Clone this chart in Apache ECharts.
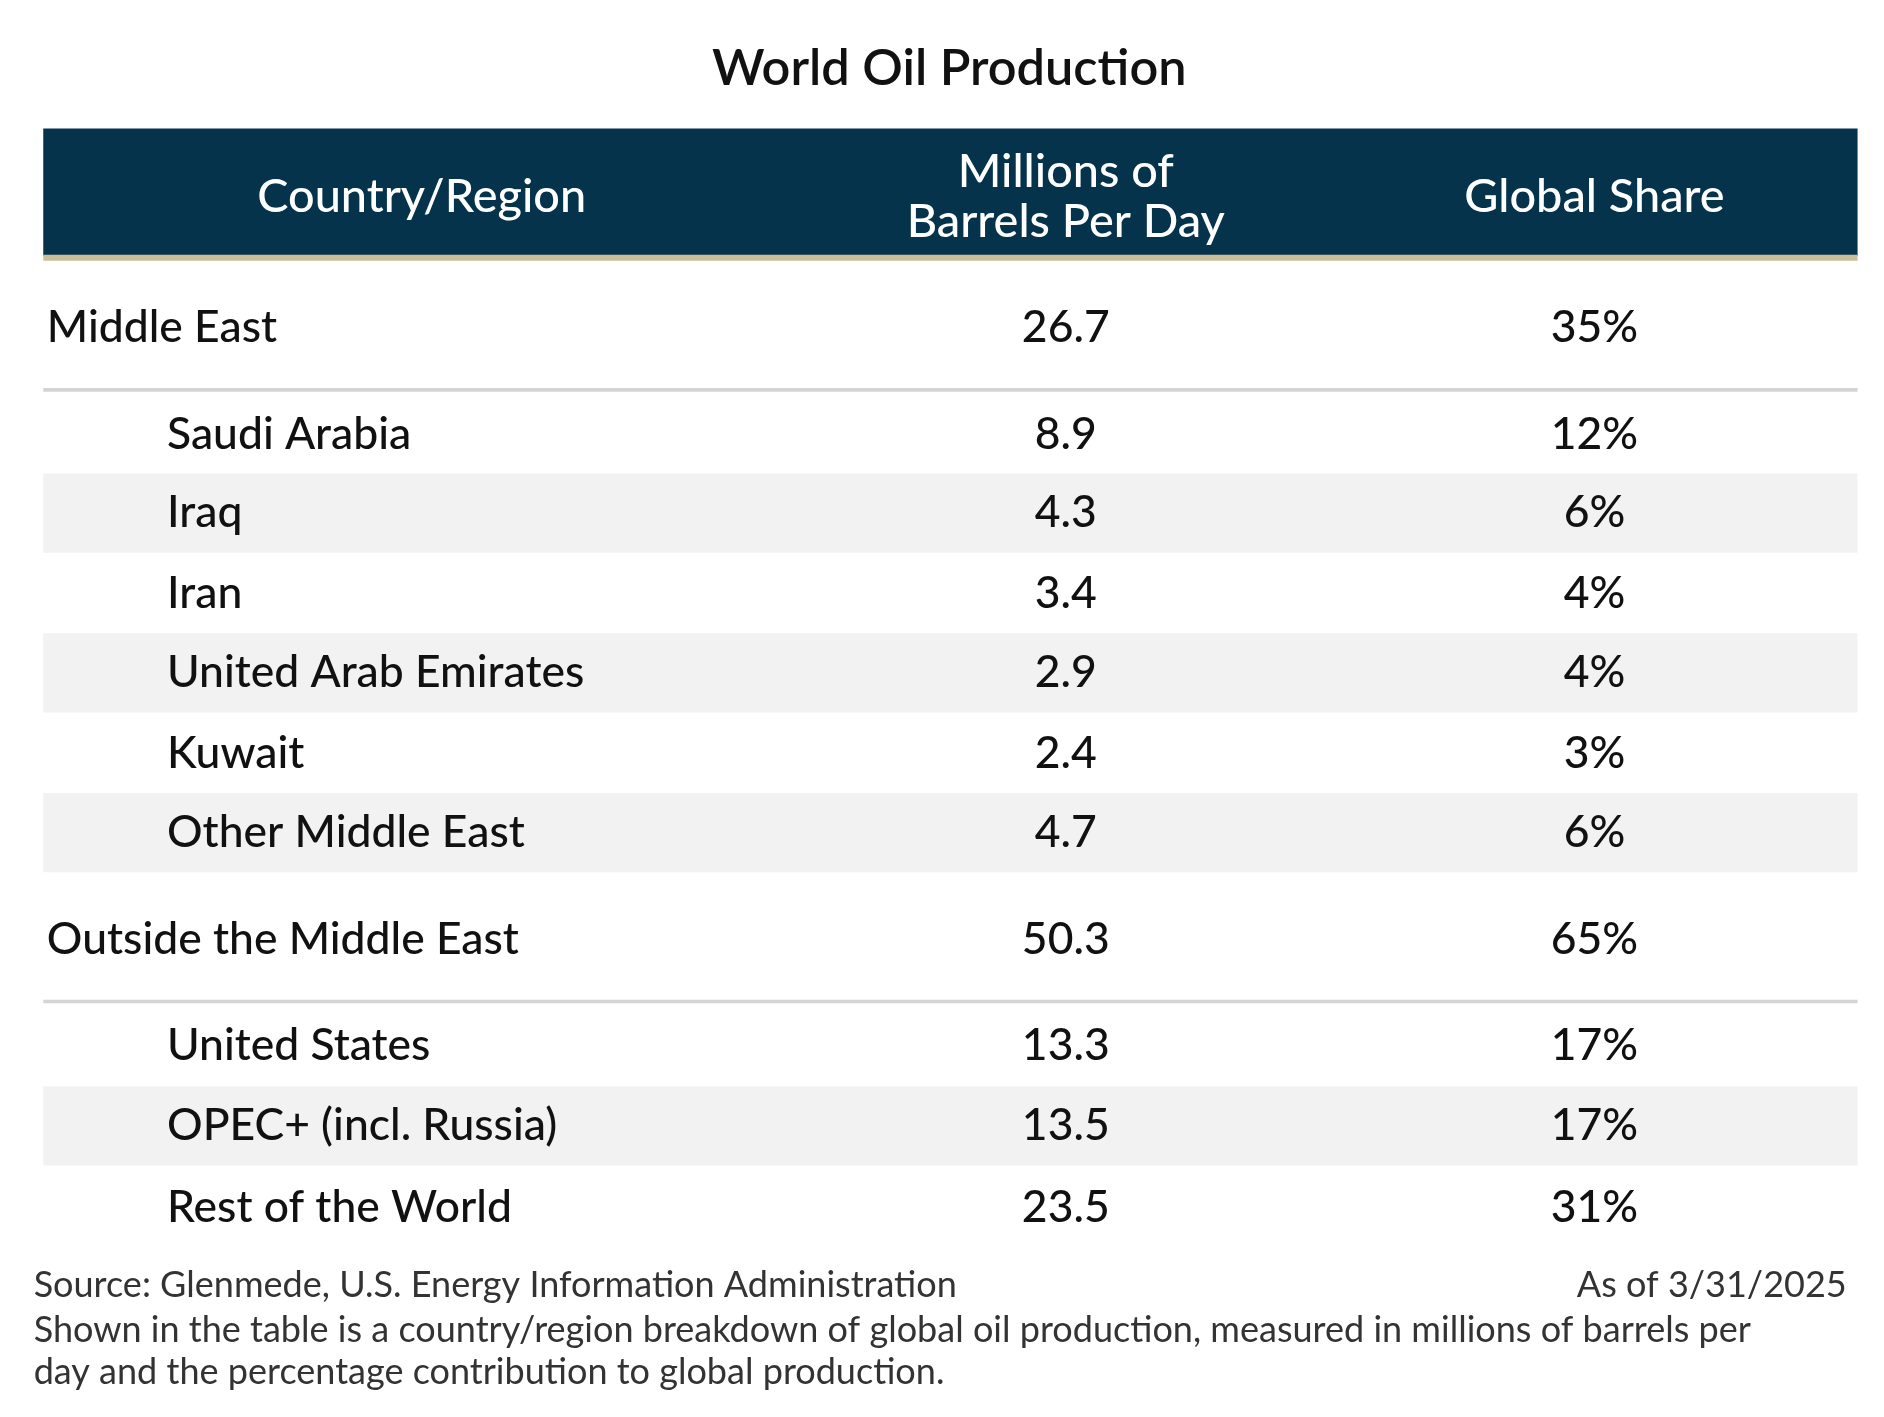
<!DOCTYPE html>
<html><head><meta charset="utf-8">
<script src="https://cdn.jsdelivr.net/npm/echarts@6/dist/echarts.min.js"></script>
<style>html,body{margin:0;padding:0;background:#fff}#c{width:1884px;height:1417px}</style>
</head><body><div id="c"></div>
<script>
const countries = ["Middle East","Saudi Arabia","Iraq","Iran","United Arab Emirates","Kuwait","Other Middle East","Outside the Middle East","United States","OPEC+ (incl. Russia)","Rest of the World"];
const barrels = [26.7,8.9,4.3,3.4,2.9,2.4,4.7,50.3,13.3,13.5,23.5];
const shares = ["35%","12%","6%","4%","4%","3%","6%","65%","17%","17%","31%"];
const isGroup = [true,false,false,false,false,false,false,true,false,false,false];
const headers = ["Country/Region","Millions of\nBarrels Per Day","Global Share"];

const s = 1884/1568;
const S = v => v*s;
const F = "Lato, 'Noto Sans', sans-serif";
const g = [];
g.push({type:'text',x:S(790),y:S(57),style:{text:'World Oil Production',font:`600 ${S(42)}px ${F}`,fill:'#111',align:'center',verticalAlign:'middle'}});
g.push({type:'rect',shape:{x:S(36),y:S(107),width:S(1510),height:S(106)},style:{fill:'#05334b'}});
g.push({type:'rect',shape:{x:S(36),y:S(212),width:S(1510),height:S(5)},style:{fill:'#c9c09a'}});
const hx=[351,887,1327];
headers.forEach((h,i)=>g.push({type:'text',x:S(hx[i]),y:S(164),style:{text:h,font:`500 ${S(39)}px ${F}`,fill:'#fff',align:'center',verticalAlign:'middle',lineHeight:S(42)}}));
const yc=[273,362,427,494,560,627,693,782,870,937,1005];
let sub=0;
countries.forEach((c,i)=>{
  if(isGroup[i]){ sub=0;
    g.push({type:'rect',shape:{x:S(36),y:S(yc[i]+50),width:S(1510),height:S(3)},style:{fill:'#d4d4d4'}});
  } else {
    if(sub%2===1) g.push({type:'rect',shape:{x:S(36),y:S(yc[i]-33),width:S(1510),height:S(66)},style:{fill:'#f2f2f2'}});
    sub++;
  }
});
countries.forEach((c,i)=>{
  const font=`500 ${S(37)}px ${F}`;
  g.push({type:'text',x:S(isGroup[i]?39:139),y:S(yc[i]),style:{text:c,font,fill:'#111',verticalAlign:'middle'}});
  g.push({type:'text',x:S(887),y:S(yc[i]),style:{text:barrels[i].toFixed(1),font,fill:'#111',align:'center',verticalAlign:'middle'}});
  g.push({type:'text',x:S(1327),y:S(yc[i]),style:{text:shares[i],font,fill:'#111',align:'center',verticalAlign:'middle'}});
});
const ff=`${S(30)}px ${F}`;
g.push({type:'text',x:S(28),y:S(1070),style:{text:'Source: Glenmede, U.S. Energy Information Administration',font:ff,fill:'#333',verticalAlign:'middle'}});
g.push({type:'text',x:S(1537),y:S(1070),style:{text:'As of 3/31/2025',font:ff,fill:'#333',align:'right',verticalAlign:'middle'}});
g.push({type:'text',x:S(28),y:S(1107),style:{text:'Shown in the table is a country/region breakdown of global oil production, measured in millions of barrels per',font:ff,fill:'#333',verticalAlign:'middle'}});
g.push({type:'text',x:S(28),y:S(1142),style:{text:'day and the percentage contribution to global production.',font:ff,fill:'#333',verticalAlign:'middle'}});
const ch=echarts.init(document.getElementById('c'));
ch.setOption({animation:false,graphic:{elements:g}});
</script></body></html>
